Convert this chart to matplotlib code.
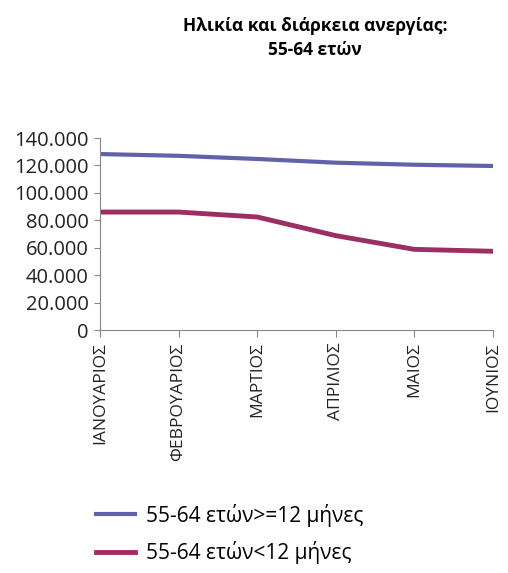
import numpy as np
from matplotlib import pyplot as plt
from matplotlib.ticker import FuncFormatter

months = ['ΙΑΝΟΥΑΡΙΟΣ', 'ΦΕΒΡΟΥΑΡΙΟΣ', 'ΜΑΡΤΙΟΣ', 'ΑΠΡΙΛΙΟΣ', 'ΜΑΙΟΣ', 'ΙΟΥΝΙΟΣ']
long_term = [128300, 127000, 124700, 122000, 120500, 119600]
short_term = [86000, 86000, 82400, 68800, 58800, 57400]
labels = ['55-64 ετών>=12 μήνες', '55-64 ετών<12 μήνες']
title = 'Ηλικία και διάρκεια ανεργίας:\n55-64 ετών'

plt.rcParams['font.family'] = ['Open Sans', 'DejaVu Sans']

fig = plt.figure(figsize=(5.08, 5.73), dpi=100)
ax = fig.add_axes([100 / 508, 1 - 330 / 573, 393 / 508, 192 / 573])

x = np.arange(len(months))
ax.plot(x, long_term, color='#6262AA', lw=3, label=labels[0])
ax.plot(x, short_term, color='#9B2E62', lw=3.5, label=labels[1])

ax.set_xlim(0, len(months) - 1)
ax.set_ylim(0, 140000)
ax.set_yticks(np.arange(0, 140001, 20000))
ax.yaxis.set_major_formatter(FuncFormatter(lambda v, p: f'{int(v):,}'.replace(',', '.')))
ax.set_xticks(x)
ax.set_xticklabels(months, rotation=90, fontsize=12.5, color='#222222')
ax.tick_params(axis='y', labelsize=14.5, labelcolor='#222222', length=4, color='#888888', pad=4)
ax.tick_params(axis='x', length=5, color='#888888', pad=4)

for s in ['top', 'right']:
    ax.spines[s].set_visible(False)
for s in ['left', 'bottom']:
    ax.spines[s].set_color('#888888')

fig.text(315 / 508, 1 - 17 / 573, title, ha='center', va='top',
         fontsize=12.5, fontweight='bold', linespacing=1.45)

fig.legend(loc='upper left', bbox_to_anchor=(77 / 508, 1 - 485 / 573),
           frameon=False, fontsize=15, handlelength=1.9, handletextpad=0.5,
           labelspacing=0.7, borderpad=0.4)

fig.savefig('out.png', dpi=100)
